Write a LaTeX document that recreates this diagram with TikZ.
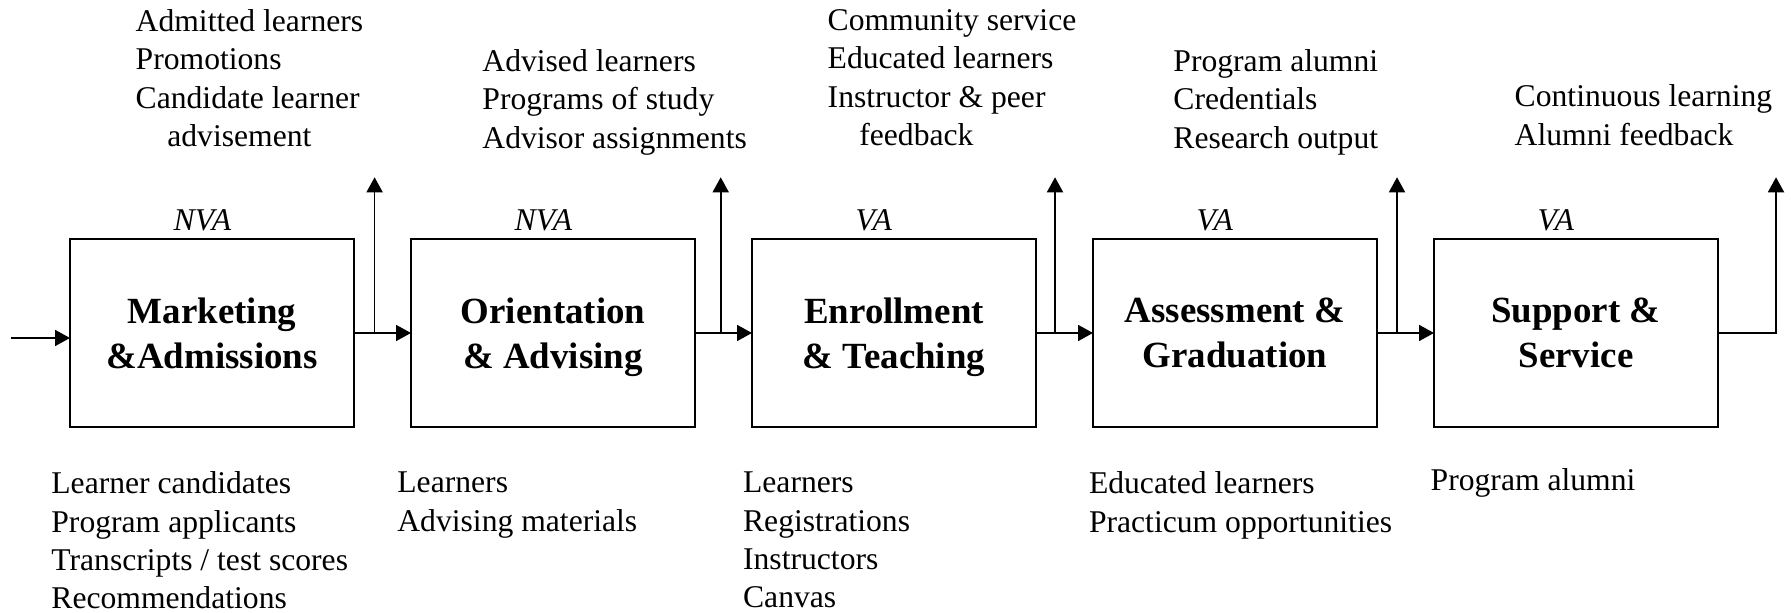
\documentclass[tikz,border=0pt]{standalone}
\usepackage{fontspec}
\setmainfont{Liberation Serif}
\usetikzlibrary{arrows.meta, positioning}

\begin{document}
\begin{tikzpicture}[
    stage/.style={draw, line width=0.5pt, minimum width=2.84cm, minimum height=1.88cm, outer sep=0pt, align=center, text depth=0pt, font=\fontsize{10.5}{12.8}\selectfont\bfseries},
    tag/.style={inner sep=0pt, font=\fontsize{9}{10.9}\selectfont\itshape},
    items/.style={anchor=north west, inner sep=0pt, align=left, font=\fontsize{9}{10.9}\selectfont},
    arrow/.style={-{Triangle[length=1.5mm, width=1.6mm]}, line width=0.5pt}
]
    \useasboundingbox (0,0) rectangle (17.91,6.13);

    % Process stages
    \node[stage] (mkt) at (2.12,2.80) {Marketing\\\&Admissions};
    \node[stage, right=0.57cm of mkt] (ori) {Orientation\\\& Advising};
    \node[stage, right=0.57cm of ori] (enr) {Enrollment\\\& Teaching};
    \node[stage, right=0.57cm of enr] (asm) {Assessment \&\\Graduation};
    \node[stage, right=0.57cm of asm] (sup) {Support \&\\Service};

    % Value added / non value added
    \node[tag, above right=0.076cm and 1.03cm of mkt.north west] (mktTag) {NVA};
    \node[tag, above right=0.076cm and 1.03cm of ori.north west] (oriTag) {NVA};
    \node[tag, above right=0.076cm and 1.03cm of enr.north west] (enrTag) {VA};
    \node[tag, above right=0.076cm and 1.03cm of asm.north west] (asmTag) {VA};
    \node[tag, above right=0.076cm and 1.03cm of sup.north west] (supTag) {VA};

    % Branch points and output tips
    \coordinate (in) at (0.11,2.75);
    \coordinate (b1) at (3.746,2.80);  \coordinate (t1) at (3.746,4.357);
    \coordinate (b2) at (7.207,2.80);  \coordinate (t2) at (7.207,4.357);
    \coordinate (b3) at (10.55,2.80);  \coordinate (t3) at (10.55,4.357);
    \coordinate (b4) at (13.97,2.80);  \coordinate (t4) at (13.97,4.357);
    \coordinate (b5) at (17.76,2.80);  \coordinate (t5) at (17.76,4.357);

    % Main flow
    \draw[arrow] (in) -- (in -| mkt.west);
    \draw[arrow] (mkt) -- (ori);
    \draw[arrow] (ori) -- (enr);
    \draw[arrow] (enr) -- (asm);
    \draw[arrow] (asm) -- (sup);
    \draw[arrow] (sup) -- (b5) -- (t5);

    % Outputs
    \draw[arrow] (b1) -- (t1);
    \draw[arrow] (b2) -- (t2);
    \draw[arrow] (b3) -- (t3);
    \draw[arrow] (b4) -- (t4);

    \node[items] (mktOut) at (1.35,6.04) {Admitted learners\\Promotions\\Candidate learner\\\hspace*{1em}advisement};
    \node[items] (oriOut) at (4.817,5.64) {Advised learners\\Programs of study\\Advisor assignments};
    \node[items] (enrOut) at (8.27,6.04) {Community service\\Educated learners\\Instructor \& peer\\\hspace*{1em}feedback};
    \node[items] (asmOut) at (11.727,5.64) {Program alumni\\Credentials\\Research output};
    \node[items] (supOut) at (15.14,5.287) {Continuous learning\\Alumni feedback};

    % Inputs
    \node[items] (mktIn) at (0.507,1.417) {Learner candidates\\Program applicants\\Transcripts / test scores\\Recommendations};
    \node[items] (oriIn) at (3.967,1.417) {Learners\\Advising materials};
    \node[items] (enrIn) at (7.424,1.417) {Learners\\Registrations\\Instructors\\Canvas};
    \node[items] (asmIn) at (10.883,1.417) {Educated learners\\Practicum opportunities};
    \node[items] (supIn) at (14.30,1.447) {Program alumni};
\end{tikzpicture}
\end{document}
